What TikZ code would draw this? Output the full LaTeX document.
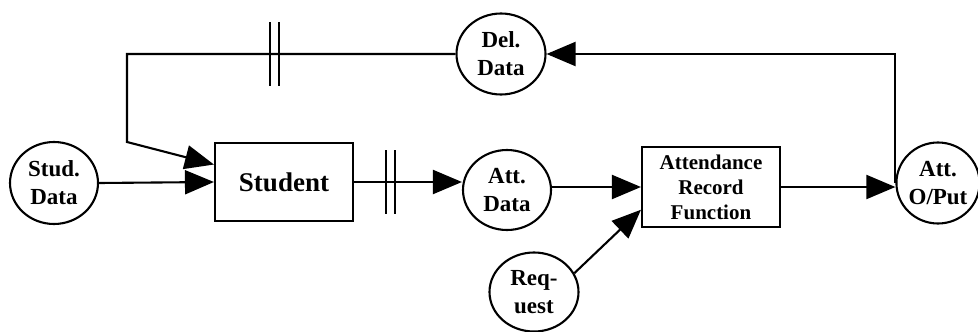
\documentclass[tikz,border=0pt]{standalone}
\usepackage{fontspec}
\setmainfont{Liberation Serif}
\usepackage{tikz}
\tikzset{every picture/.style={line width=2.1pt}}
\usetikzlibrary{shapes.geometric, positioning, calc, arrows.meta}

\begin{document}
\begin{tikzpicture}[
		x=1pt, y=-1pt,
		% Data store ellipses
		store/.style={
			ellipse,
			draw,
			inner sep=0pt,
			align=center,
			font=\bfseries\fontsize{23}{28}\selectfont
		},
		% Process boxes
		proc/.style={
			rectangle,
			draw,
			inner sep=0pt,
			align=center,
			minimum width=138pt
		},
		% Flow arrows
		flow/.style={
			-{Triangle[length=29pt, width=24pt]}
		},
		% Double bar across a flow
		bars/.pic={
			\draw[-] (-4.5,-32) -- (-4.5,32) (4.5,-32) -- (4.5,32);
		}
		]
		
		\useasboundingbox (0,0) rectangle (978,332);
		
		% --- Processes ---
		\node[proc, minimum height=78pt, font=\bfseries\fontsize{27}{32}\selectfont] (student) at (284,182) {Student};
		\node[proc, minimum height=80pt, font=\bfseries\fontsize{21}{25}\selectfont] (attfun) at (711,187) {Attendance\\Record\\Function};
		
		% --- Data ellipses ---
		\node[store, minimum width=88pt, minimum height=82pt] (studdata) at (54,183) {Stud.\\Data};
		\node[store, minimum width=89pt, minimum height=81pt] (deldata) at (501,54) {Del.\\Data};
		\node[store, minimum width=88pt, minimum height=80pt] (attdata) at (507,190) {Att.\\Data};
		\node[store, minimum width=89pt, minimum height=79pt] (request) at (534,292) {Req-\\uest};
		\node[store, minimum width=81pt, minimum height=81pt] (attout) at (938,183) {Att.\\O/Put};
		
		\coordinate (bend) at (127,142);
		
		% --- Flows ---
		\draw[flow] (studdata.east) -- (student.west);
		\draw[flow] (deldata.west) -- pic[pos=0.55]{bars} (bend |- deldata.west) -- (bend) -- (student.166);
		\draw[flow] (student.east) -- pic[pos=0.34]{bars} (student.east -| attdata.west);
		\draw[flow] (attfun.west -| attdata.east) -- (attfun.west);
		\draw[flow] (request.25) -- (attfun.198);
		\draw[flow] (attfun.east) -- (attfun.east -| attout.west);
		\draw[flow] (attout.west) -- (attout.west |- deldata.east) -- (deldata.east);
		
	\end{tikzpicture}
\end{document}
